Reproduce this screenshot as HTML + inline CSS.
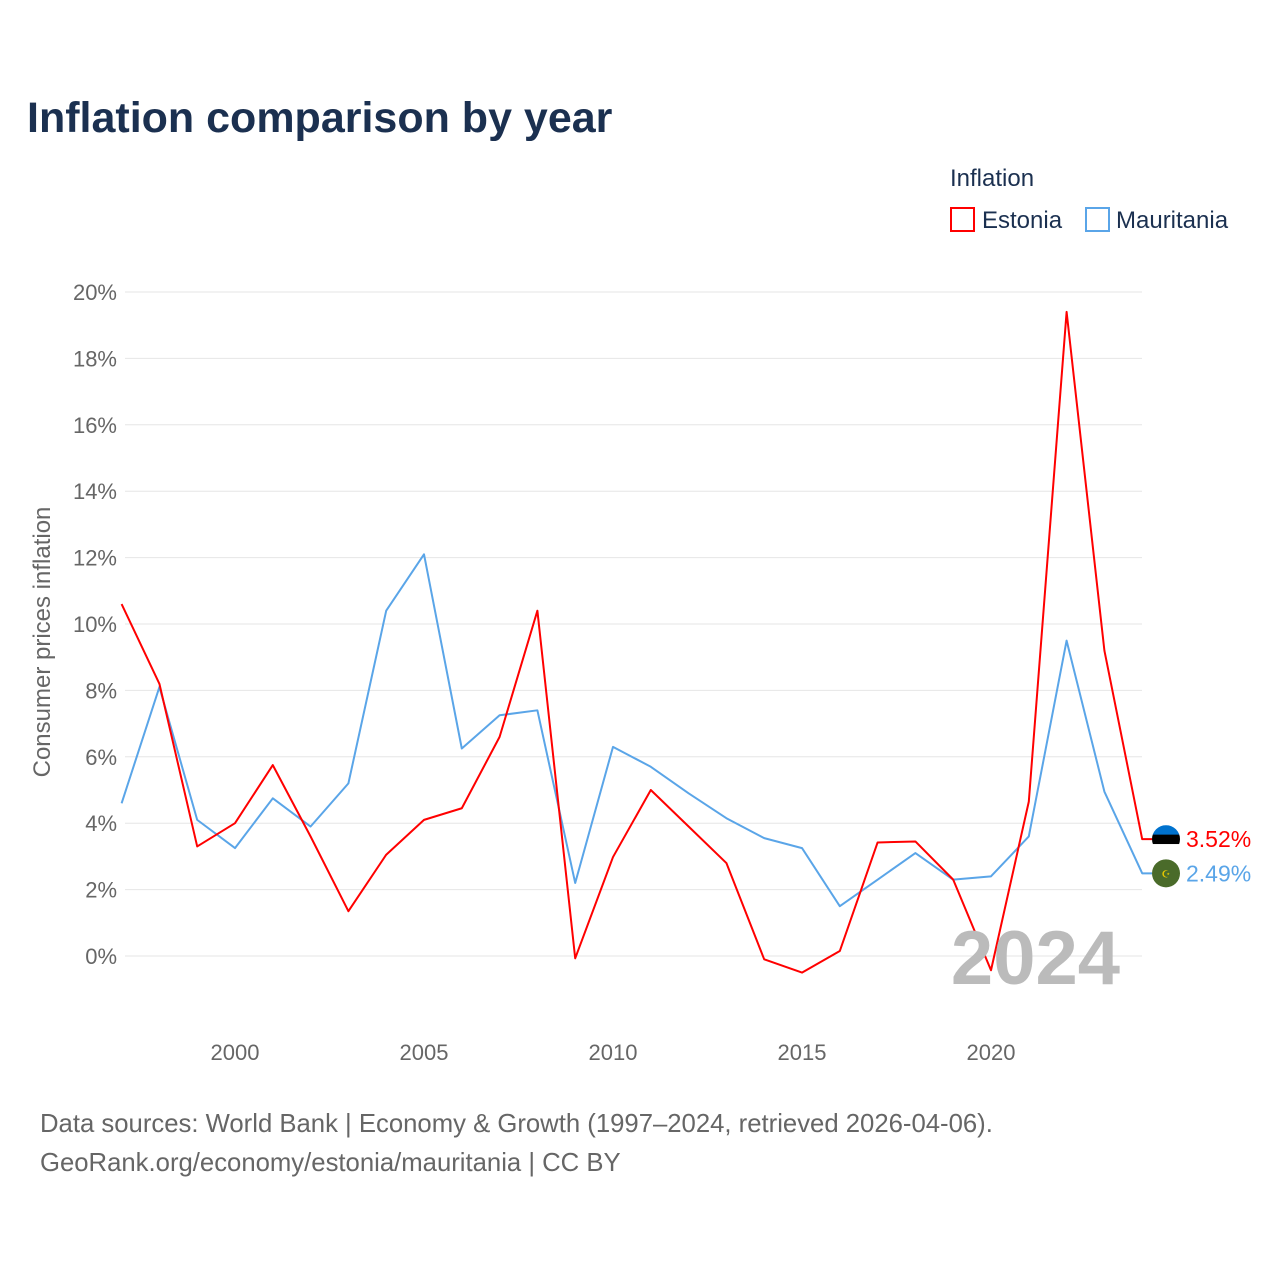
<!DOCTYPE html>
<html><head><meta charset="utf-8"><style>
body{margin:0;background:#fff;font-family:"Liberation Sans",sans-serif}
</style></head><body>
<svg width="1280" height="1280" style="display:block">
<defs><clipPath id="ecl"><circle cx="1166" cy="839" r="14"/></clipPath></defs>
<text x="27" y="132" font-size="43" font-weight="bold" fill="#1b3050">Inflation comparison by year</text>
<text x="950" y="186" font-size="24" fill="#1b3050">Inflation</text>
<g><rect x="951" y="208" width="23" height="23" fill="none" stroke="#f00" stroke-width="2"/><text x="982" y="228" font-size="24" fill="#1b3050">Estonia</text></g>
<g><rect x="1086" y="208" width="23" height="23" fill="none" stroke="#5aa5e8" stroke-width="2"/><text x="1116" y="228" font-size="24" fill="#1b3050">Mauritania</text></g>
<text transform="translate(50,642) rotate(-90)" text-anchor="middle" font-size="24" fill="#666">Consumer prices inflation</text>
<g id="grid"></g><g id="lines"></g>
<text x="1120" y="984" text-anchor="end" font-size="76" font-weight="bold" fill="#bbb">2024</text>
<text x="40" y="1132" font-size="25.7" fill="#666">Data sources: World Bank | Economy &amp; Growth (1997–2024, retrieved 2026-04-06).</text>
<text x="40" y="1171" font-size="25.7" fill="#666">GeoRank.org/economy/estonia/mauritania | CC BY</text>
</svg>
<script>
const years=[1997,1998,1999,2000,2001,2002,2003,2004,2005,2006,2007,2008,2009,2010,2011,2012,2013,2014,2015,2016,2017,2018,2019,2020,2021,2022,2023,2024];
const estonia=[10.6,8.2,3.3,4.0,5.75,3.6,1.35,3.05,4.1,4.45,6.6,10.4,-0.07,2.98,5.0,3.9,2.8,-0.1,-0.5,0.15,3.42,3.45,2.3,-0.43,4.65,19.4,9.2,3.52];
const mauritania=[4.6,8.1,4.1,3.25,4.75,3.9,5.2,10.4,12.1,6.25,7.25,7.4,2.2,6.3,5.7,4.9,4.15,3.55,3.25,1.5,2.3,3.1,2.3,2.4,3.6,9.5,4.95,2.49];
const yTicks=[0,2,4,6,8,10,12,14,16,18,20];
const xTicks=[2000,2005,2010,2015,2020];
const NS="http://www.w3.org/2000/svg";
const X=y=>121.6+(y-1997)*37.8, Y=v=>956-v*33.2;
const grid=document.getElementById('grid'), lines=document.getElementById('lines');
function mk(tag,attrs,parent,txt){const e=document.createElementNS(NS,tag);for(const k in attrs)e.setAttribute(k,attrs[k]);if(txt!==undefined)e.textContent=txt;parent.appendChild(e);return e;}
yTicks.forEach(t=>{
 const l=mk('line',{x1:125,x2:1142,y1:Y(t),y2:Y(t),stroke:'#e6e6e6','stroke-width':1},grid);
 
 
 const tx=mk('text',{x:117,y:Y(t)+8,'text-anchor':'end','font-size':22,fill:'#666'},grid,t+'%');
 
 
});
xTicks.forEach(t=>{
 const tx=mk('text',{x:X(t),y:1060,'text-anchor':'middle','font-size':22,fill:'#666'},grid,String(t));
 
 
});
function series(vals,color,name,flag){
 let pts=vals.map((v,i)=>X(years[i])+','+Y(v)).join(' ');
 const last=vals[vals.length-1];
 const ly=Y(last);
 pts+=' 1152,'+ly;
 const p=mk('polyline',{points:pts,fill:'none',stroke:color,'stroke-width':2,'stroke-linejoin':'round'},lines);
 
 
 const g=mk('g',{},lines);
 
 
 if(flag==='estonia'){
  const cp=document.querySelector('#ecl circle');cp.setAttribute('cy',ly);
  const gg=mk('g',{'clip-path':'url(#ecl)'},g);
  mk('rect',{x:1152,y:ly-14,width:28,height:10,fill:'#0072ce'},gg);
  mk('rect',{x:1152,y:ly-4.5,width:28,height:9.5,fill:'#000'},gg);
  mk('rect',{x:1152,y:ly+5,width:28,height:10,fill:'#fff'},gg);
 } else {
  mk('circle',{cx:1166,cy:ly,r:14,fill:'#4a6b2a'},g);
  mk('text',{x:1166,y:ly+4,'text-anchor':'middle','font-size':10,fill:'#e8c800'},g,'☪');
 }
 const t=mk('text',{x:1186,y:ly+8,'font-size':23,fill:color},lines,last.toFixed(2)+'%');
 
 
}
series(mauritania,'#5aa5e8','mauritania','mauritania');
series(estonia,'#f00','estonia','estonia');
</script>
</body></html>
